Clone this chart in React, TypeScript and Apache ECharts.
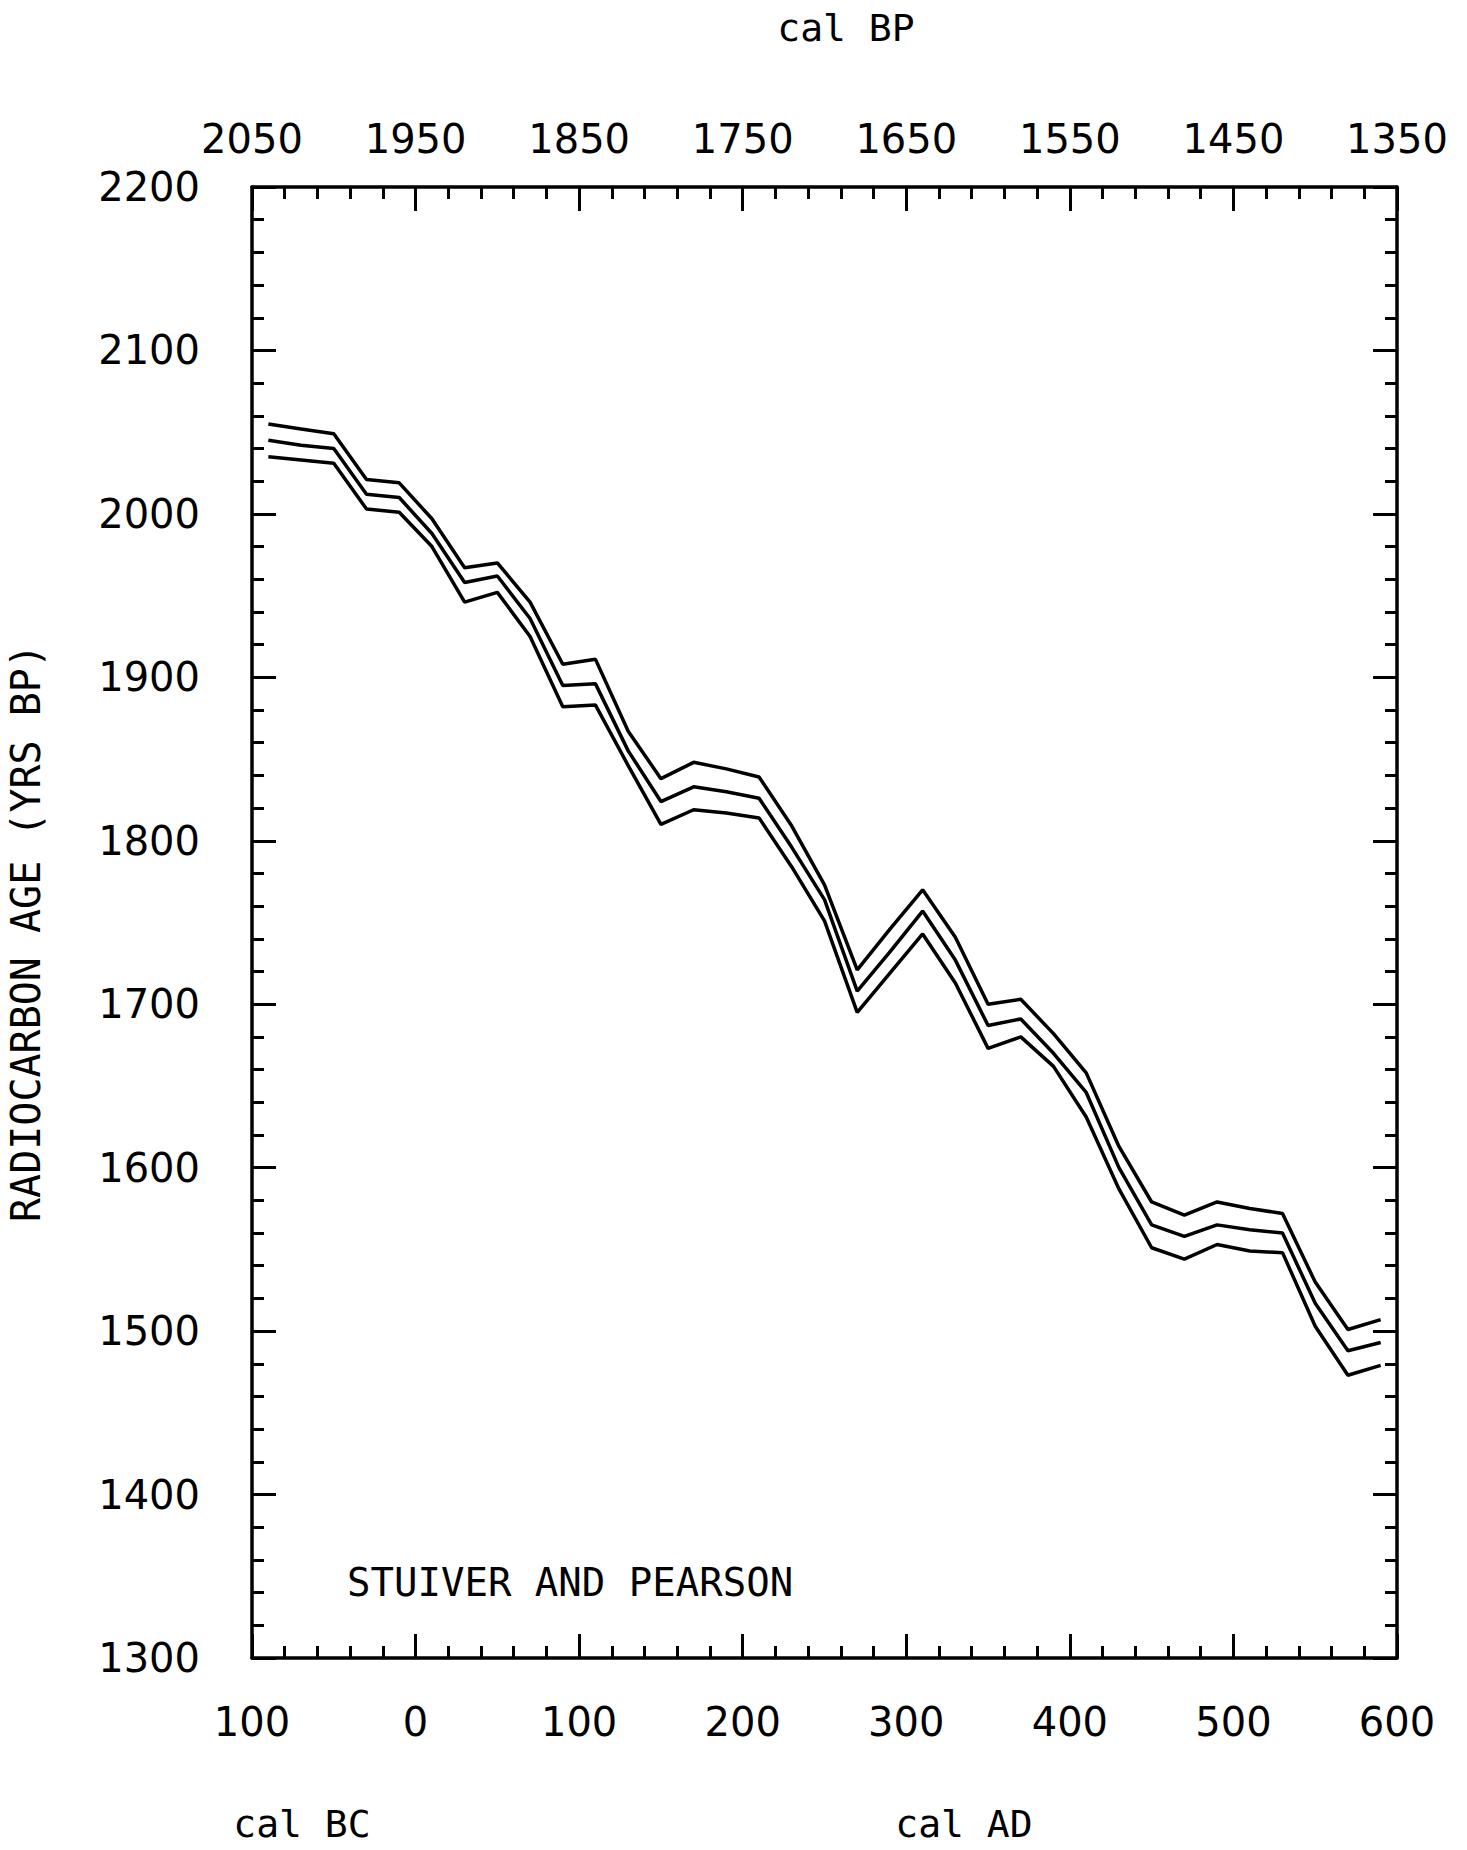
import React, { useEffect, useRef } from "react";
import * as echarts from "echarts";

// Calibrated age (cal AD, negative = BC)
const calYears = [-90, -70, -50, -30, -10, 10, 30, 50, 70, 90, 110, 130, 150, 170, 190, 210, 230, 250, 270, 290, 310, 330, 350, 370, 390, 410, 430, 450, 470, 490, 510, 530, 550, 570, 590];
// Radiocarbon age (yrs BP): upper sigma, mean, lower sigma
const upperAge = [2055, 2052, 2049, 2021, 2019, 1997, 1967, 1970, 1946, 1908, 1911, 1867, 1838, 1848, 1844, 1839, 1809, 1773, 1721, 1746, 1770, 1741, 1700, 1703, 1682, 1658, 1613, 1579, 1571, 1579, 1575, 1572, 1530, 1501, 1507];
const meanAge = [2045, 2042, 2040, 2012, 2010, 1988, 1958, 1962, 1936, 1895, 1896, 1855, 1824, 1833, 1830, 1826, 1796, 1764, 1708, 1732, 1757, 1727, 1687, 1691, 1670, 1646, 1600, 1565, 1558, 1565, 1562, 1560, 1517, 1488, 1493];
const lowerAge = [2035, 2033, 2031, 2003, 2001, 1980, 1946, 1952, 1925, 1882, 1883, 1846, 1810, 1819, 1817, 1814, 1784, 1751, 1695, 1719, 1743, 1713, 1673, 1680, 1662, 1631, 1587, 1551, 1544, 1553, 1549, 1548, 1503, 1473, 1479];

const xMin = -100;
const xMax = 600;
const xStep = 100;
const yMin = 1300;
const yMax = 2200;
const yStep = 100;
const bpOffset = 1950;

const titleText = "RADIOCARBON AGE (YRS BP)";
const noteText = "STUIVER AND PEARSON";
const topName = "cal BP";
const bcName = "cal BC";
const adName = "cal AD";

const DIGIT_FONT = "'DejaVu Sans', sans-serif";
const LETTER_FONT = "'DejaVu Sans Mono', monospace";

export default function App() {
  const ref = useRef<HTMLDivElement>(null);

  useEffect(() => {
    if (!ref.current) return;
    const chart = echarts.init(ref.current, null, { renderer: "svg" });

    const axisCommon = (labels: boolean, fmt?: (v: number) => string, margin?: number) => ({
      type: "value" as const,
      axisLine: { show: true, onZero: false, lineStyle: { color: "#000", width: 3.5 } },
      axisTick: { show: true, inside: true, length: 24, lineStyle: { color: "#000", width: 3 } },
      minorTick: { show: true, splitNumber: 5, length: 12, lineStyle: { color: "#000", width: 3 } },
      splitLine: { show: false },
      axisLabel: {
        show: labels,
        formatter: fmt,
        fontSize: 40,
        fontFamily: DIGIT_FONT,
        color: "#000",
        margin: margin ?? 40,
        showMinLabel: true,
        showMaxLabel: true,
      },
    });

    const mk = (vals: number[]) => calYears.map((x, i) => [x, vals[i]]);
    const lineSeries = (name: string, vals: number[]) => ({
      name,
      type: "line" as const,
      xAxisIndex: 0,
      yAxisIndex: 0,
      data: mk(vals),
      showSymbol: false,
      symbol: "none",
      lineStyle: { color: "#000", width: 3.5 },
      silent: true,
    });

    chart.setOption({
      animation: false,
      backgroundColor: "#ffffff",
      grid: { left: 252, top: 187, right: 70, bottom: 192, containLabel: false },
      xAxis: [
        {
          ...axisCommon(true, (v: number) => String(Math.abs(v)), 44),
          position: "bottom",
          min: xMin,
          max: xMax,
          interval: xStep,
        },
        {
          ...axisCommon(true, (v: number) => String(bpOffset - v), 28),
          position: "top",
          min: xMin,
          max: xMax,
          interval: xStep,
        },
      ],
      yAxis: [
        {
          ...axisCommon(true, (v: number) => String(v), 52),
          position: "left",
          min: yMin,
          max: yMax,
          interval: yStep,
        },
        {
          ...axisCommon(false),
          position: "right",
          min: yMin,
          max: yMax,
          interval: yStep,
        },
      ],
      graphic: [
        {
          type: "text",
          x: 846,
          y: 28,
          style: { text: topName, font: `38px ${LETTER_FONT}`, fill: "#000", textAlign: "center", textVerticalAlign: "middle" },
        },
        {
          type: "text",
          x: 302,
          y: 1824,
          style: { text: bcName, font: `38px ${LETTER_FONT}`, fill: "#000", textAlign: "center", textVerticalAlign: "middle" },
        },
        {
          type: "text",
          x: 964,
          y: 1824,
          style: { text: adName, font: `38px ${LETTER_FONT}`, fill: "#000", textAlign: "center", textVerticalAlign: "middle" },
        },
        {
          type: "text",
          x: 347,
          y: 1582,
          style: { text: noteText, font: `39px ${LETTER_FONT}`, fill: "#000", textAlign: "left", textVerticalAlign: "middle" },
        },
        {
          type: "text",
          x: 26,
          y: 933,
          rotation: Math.PI / 2,
          style: { text: titleText, font: `40px ${LETTER_FONT}`, fill: "#000", textAlign: "center", textVerticalAlign: "middle" },
        },
      ],
      series: [lineSeries("upper", upperAge), lineSeries("mean", meanAge), lineSeries("lower", lowerAge)],
    });

    return () => chart.dispose();
  }, []);

  return (
    <div
      ref={ref}
      style={{ position: "absolute", left: 0, top: 0, width: 1467, height: 1850, background: "#fff" }}
    />
  );
}
